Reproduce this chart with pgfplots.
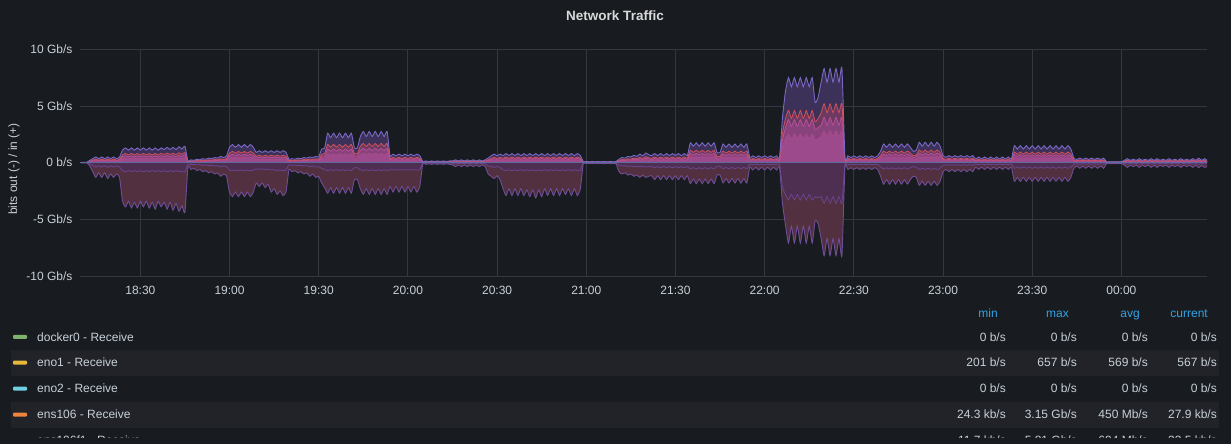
\documentclass[border=0pt]{standalone}
\usepackage{pgfplots}
\pgfplotsset{compat=1.18}
\usepackage{pgfplotstable}
\usepackage{fontspec}
\setmainfont{Liberation Sans}
\definecolor{bg}{HTML}{181B1F}
\definecolor{gridc}{HTML}{34373D}
\definecolor{tickc}{HTML}{C7D0D9}
\definecolor{titlec}{HTML}{D8D9DA}
\definecolor{hdr}{HTML}{33A2E5}
\definecolor{band}{HTML}{212328}
\definecolor{fT}{HTML}{3C3158}
\definecolor{fa}{HTML}{6C3A60}
\definecolor{fb}{HTML}{88427C}
\definecolor{fc}{HTML}{9C4A8C}
\definecolor{fN}{HTML}{52303F}
\definecolor{fn}{HTML}{4E2F52}
\definecolor{lT}{HTML}{7A68C6}
\definecolor{la}{HTML}{D0505C}
\definecolor{lb}{HTML}{B64F98}
\definecolor{lc}{HTML}{A84A8C}
\definecolor{lN}{HTML}{6E4E96}
\definecolor{ln}{HTML}{6A4590}
\definecolor{zl}{HTML}{5F6AA0}
\definecolor{sg}{HTML}{7EB26D}
\definecolor{sy}{HTML}{EAB839}
\definecolor{sc}{HTML}{6ED0E0}
\definecolor{so}{HTML}{EF843C}
\definecolor{sr}{HTML}{E24D42}

\pgfplotstableread{
m T a b c n N
10 0.03 0.02 0.01 0.01 -0.01 -0.02
11 0.03 0.02 0.01 0.01 -0.01 -0.02
12 0.03 0.02 0.01 0.01 -0.01 -0.02
13 0.2 0.12 0.09 0.06 -0.1 -0.3
14 0.35 0.22 0.16 0.11 -0.24 -0.8
15 0.5 0.31 0.23 0.15 -0.39 -1.3
16 0.35 0.22 0.16 0.11 -0.27 -0.9
17 0.5 0.31 0.23 0.15 -0.39 -1.3
18 0.35 0.22 0.16 0.11 -0.27 -0.9
19 0.5 0.31 0.23 0.15 -0.42 -1.4
20 0.35 0.22 0.16 0.11 -0.3 -1.0
21 0.5 0.31 0.23 0.15 -0.39 -1.3
22 0.35 0.22 0.16 0.11 -0.3 -1.0
23 0.5 0.31 0.23 0.15 -0.39 -1.3
24 1.1 0.68 0.51 0.33 -0.7 -3.4
25 1.3 0.81 0.6 0.39 -0.8 -3.9
26 1.1 0.68 0.51 0.33 -0.7 -3.4
27 1.3 0.81 0.6 0.39 -0.8 -4.0
28 1.1 0.68 0.51 0.33 -0.7 -3.5
29 1.3 0.81 0.6 0.39 -0.8 -4.0
30 1.1 0.68 0.51 0.33 -0.7 -3.4
31 1.3 0.81 0.6 0.39 -0.8 -3.9
32 1.1 0.68 0.51 0.33 -0.7 -3.4
33 1.3 0.81 0.6 0.39 -0.8 -4.0
34 1.1 0.68 0.51 0.33 -0.7 -3.5
35 1.3 0.81 0.6 0.39 -0.8 -4.1
36 1.1 0.68 0.51 0.33 -0.7 -3.4
37 1.3 0.81 0.6 0.39 -0.8 -3.9
38 1.15 0.71 0.53 0.35 -0.7 -3.5
39 1.35 0.84 0.62 0.41 -0.8 -4.1
40 1.15 0.71 0.53 0.35 -0.7 -3.5
41 1.35 0.84 0.62 0.41 -0.8 -4.2
42 1.15 0.71 0.53 0.35 -0.7 -3.6
43 1.4 0.87 0.64 0.42 -0.8 -4.3
44 1.2 0.74 0.55 0.36 -0.75 -3.8
45 1.45 0.9 0.67 0.44 -0.85 -4.4
46 0.15 0.09 0.07 0.05 -0.12 -0.4
47 0.25 0.16 0.12 0.08 -0.18 -0.6
48 0.2 0.12 0.09 0.06 -0.15 -0.5
49 0.3 0.19 0.14 0.09 -0.21 -0.7
50 0.25 0.16 0.12 0.08 -0.18 -0.6
51 0.35 0.22 0.16 0.11 -0.24 -0.8
52 0.3 0.19 0.14 0.09 -0.21 -0.7
53 0.4 0.25 0.18 0.12 -0.27 -0.9
54 0.35 0.22 0.16 0.11 -0.24 -0.8
55 0.45 0.28 0.21 0.14 -0.3 -1.0
56 0.4 0.25 0.18 0.12 -0.27 -0.9
57 0.55 0.34 0.25 0.17 -0.36 -1.2
58 0.45 0.28 0.21 0.14 -0.3 -1.0
59 0.6 0.37 0.28 0.18 -0.36 -1.2
60 1.35 0.84 0.62 0.41 -0.65 -2.6
61 1.6 0.99 0.74 0.48 -0.72 -3.0
62 1.35 0.84 0.62 0.41 -0.65 -2.6
63 1.6 0.99 0.74 0.48 -0.72 -3.0
64 1.35 0.84 0.62 0.41 -0.65 -2.6
65 1.6 0.99 0.74 0.48 -0.72 -3.0
66 1.35 0.84 0.62 0.41 -0.65 -2.6
67 1.6 0.99 0.74 0.48 -0.72 -3.0
68 1.35 0.84 0.62 0.41 -0.65 -2.6
69 0.9 0.56 0.41 0.27 -0.54 -1.8
70 1.05 0.65 0.48 0.32 -0.6 -2.1
71 0.9 0.56 0.41 0.27 -0.54 -1.8
72 1.05 0.65 0.48 0.32 -0.62 -2.2
73 0.9 0.56 0.41 0.27 -0.57 -1.9
74 1.05 0.65 0.48 0.32 -0.65 -2.6
75 0.9 0.56 0.41 0.27 -0.63 -2.3
76 1.05 0.65 0.48 0.32 -0.7 -2.8
77 0.9 0.56 0.41 0.27 -0.65 -2.5
78 1.05 0.65 0.48 0.32 -0.7 -2.9
79 0.9 0.56 0.41 0.27 -0.65 -2.6
80 0.3 0.19 0.14 0.09 -0.2 -0.6
81 0.35 0.22 0.16 0.11 -0.24 -0.8
82 0.3 0.19 0.14 0.09 -0.21 -0.7
83 0.4 0.25 0.18 0.12 -0.27 -0.9
84 0.35 0.22 0.16 0.11 -0.24 -0.8
85 0.45 0.28 0.21 0.14 -0.3 -1.0
86 0.4 0.25 0.18 0.12 -0.27 -0.9
87 0.5 0.31 0.23 0.15 -0.36 -1.2
88 0.45 0.28 0.21 0.14 -0.3 -1.0
89 0.55 0.34 0.25 0.17 -0.39 -1.3
90 0.5 0.31 0.23 0.15 -0.36 -1.2
91 1.2 0.74 0.55 0.36 -0.5 -1.8
92 1.3 0.81 0.6 0.39 -0.6 -2.2
93 2.6 1.61 1.2 0.78 -0.7 -2.7
94 2.2 1.36 1.01 0.66 -0.62 -2.2
95 2.6 1.61 1.2 0.78 -0.7 -2.7
96 2.2 1.36 1.01 0.66 -0.62 -2.2
97 2.6 1.61 1.2 0.78 -0.7 -2.7
98 2.2 1.36 1.01 0.66 -0.62 -2.2
99 2.6 1.61 1.2 0.78 -0.7 -2.7
100 2.2 1.36 1.01 0.66 -0.62 -2.2
101 2.6 1.61 1.2 0.78 -0.7 -2.7
102 1.3 0.81 0.6 0.39 -0.45 -1.5
103 1.3 0.81 0.6 0.39 -0.45 -1.5
104 2.3 1.43 1.06 0.69 -0.63 -2.3
105 2.75 1.7 1.27 0.83 -0.7 -2.8
106 2.3 1.43 1.06 0.69 -0.63 -2.3
107 2.75 1.7 1.27 0.83 -0.7 -2.8
108 2.3 1.43 1.06 0.69 -0.63 -2.3
109 2.75 1.7 1.27 0.83 -0.7 -2.8
110 2.3 1.43 1.06 0.69 -0.63 -2.3
111 2.75 1.7 1.27 0.83 -0.7 -2.8
112 2.3 1.43 1.06 0.69 -0.63 -2.3
113 2.75 1.7 1.27 0.83 -0.7 -2.8
114 0.6 0.37 0.28 0.18 -0.62 -2.1
115 0.75 0.47 0.35 0.23 -0.65 -2.6
116 0.6 0.37 0.28 0.18 -0.62 -2.1
117 0.75 0.47 0.35 0.23 -0.65 -2.6
118 0.6 0.37 0.28 0.18 -0.62 -2.1
119 0.75 0.47 0.35 0.23 -0.65 -2.6
120 0.6 0.37 0.28 0.18 -0.62 -2.1
121 0.75 0.47 0.35 0.23 -0.65 -2.6
122 0.6 0.37 0.28 0.18 -0.62 -2.1
123 0.75 0.47 0.35 0.23 -0.65 -2.6
124 0.6 0.37 0.28 0.18 -0.62 -2.1
125 0.1 0.06 0.05 0.03 -0.03 -0.1
126 0.15 0.09 0.07 0.05 -0.05 -0.15
127 0.1 0.06 0.05 0.03 -0.03 -0.1
128 0.15 0.09 0.07 0.05 -0.05 -0.15
129 0.1 0.06 0.05 0.03 -0.03 -0.1
130 0.15 0.09 0.07 0.05 -0.05 -0.15
131 0.1 0.06 0.05 0.03 -0.03 -0.1
132 0.15 0.09 0.07 0.05 -0.05 -0.15
133 0.1 0.06 0.05 0.03 -0.03 -0.1
134 0.15 0.09 0.07 0.05 -0.05 -0.15
135 0.15 0.09 0.07 0.05 -0.06 -0.2
136 0.25 0.16 0.12 0.08 -0.1 -0.35
137 0.15 0.09 0.07 0.05 -0.06 -0.2
138 0.25 0.16 0.12 0.08 -0.1 -0.35
139 0.15 0.09 0.07 0.05 -0.06 -0.2
140 0.25 0.16 0.12 0.08 -0.1 -0.35
141 0.15 0.09 0.07 0.05 -0.06 -0.2
142 0.25 0.16 0.12 0.08 -0.1 -0.35
143 0.15 0.09 0.07 0.05 -0.06 -0.2
144 0.25 0.16 0.12 0.08 -0.1 -0.35
145 0.15 0.09 0.07 0.05 -0.06 -0.2
146 0.25 0.16 0.12 0.08 -0.1 -0.35
147 0.4 0.25 0.18 0.12 -0.3 -1.0
148 0.6 0.37 0.28 0.18 -0.35 -1.2
149 0.75 0.47 0.35 0.23 -0.42 -1.4
150 0.6 0.37 0.28 0.18 -0.35 -1.15
151 0.75 0.47 0.35 0.23 -0.45 -1.5
152 0.62 0.38 0.29 0.19 -0.63 -2.3
153 0.8 0.5 0.37 0.24 -0.7 -2.9
154 0.62 0.38 0.29 0.19 -0.63 -2.3
155 0.8 0.5 0.37 0.24 -0.7 -2.9
156 0.62 0.38 0.29 0.19 -0.63 -2.3
157 0.8 0.5 0.37 0.24 -0.7 -2.9
158 0.62 0.38 0.29 0.19 -0.63 -2.3
159 0.8 0.5 0.37 0.24 -0.7 -2.9
160 0.62 0.38 0.29 0.19 -0.63 -2.4
161 0.8 0.5 0.37 0.24 -0.72 -3.0
162 0.62 0.38 0.29 0.19 -0.63 -2.4
163 0.8 0.5 0.37 0.24 -0.72 -3.1
164 0.62 0.38 0.29 0.19 -0.63 -2.4
165 0.8 0.5 0.37 0.24 -0.72 -3.0
166 0.62 0.38 0.29 0.19 -0.63 -2.3
167 0.8 0.5 0.37 0.24 -0.7 -2.9
168 0.62 0.38 0.29 0.19 -0.63 -2.3
169 0.8 0.5 0.37 0.24 -0.7 -2.9
170 0.62 0.38 0.29 0.19 -0.63 -2.3
171 0.8 0.5 0.37 0.24 -0.7 -2.9
172 0.62 0.38 0.29 0.19 -0.63 -2.3
173 0.8 0.5 0.37 0.24 -0.7 -2.8
174 0.62 0.38 0.29 0.19 -0.63 -2.3
175 0.8 0.5 0.37 0.24 -0.7 -2.9
176 0.62 0.38 0.29 0.19 -0.63 -2.3
177 0.8 0.5 0.37 0.24 -0.7 -2.9
178 0.62 0.38 0.29 0.19 -0.63 -2.3
179 0.08 0.05 0.04 0.02 -0.03 -0.08
180 0.1 0.06 0.05 0.03 -0.03 -0.1
181 0.06 0.04 0.03 0.02 -0.02 -0.06
182 0.1 0.06 0.05 0.03 -0.03 -0.1
183 0.06 0.04 0.03 0.02 -0.02 -0.06
184 0.1 0.06 0.05 0.03 -0.03 -0.1
185 0.06 0.04 0.03 0.02 -0.02 -0.06
186 0.1 0.06 0.05 0.03 -0.03 -0.1
187 0.06 0.04 0.03 0.02 -0.02 -0.06
188 0.1 0.06 0.05 0.03 -0.03 -0.1
189 0.06 0.04 0.03 0.02 -0.02 -0.06
190 0.1 0.06 0.05 0.03 -0.03 -0.1
191 0.3 0.19 0.14 0.09 -0.24 -0.8
192 0.45 0.28 0.21 0.14 -0.3 -1.0
193 0.4 0.25 0.18 0.12 -0.27 -0.9
194 0.55 0.34 0.25 0.17 -0.33 -1.1
195 0.5 0.31 0.23 0.15 -0.3 -1.0
196 0.65 0.4 0.3 0.2 -0.36 -1.2
197 0.55 0.34 0.25 0.17 -0.33 -1.1
198 0.75 0.47 0.35 0.23 -0.39 -1.3
199 0.6 0.37 0.28 0.18 -0.33 -1.1
200 0.85 0.53 0.39 0.26 -0.39 -1.3
201 0.7 0.43 0.32 0.21 -0.36 -1.2
202 0.62 0.38 0.29 0.19 -0.35 -1.15
203 0.8 0.5 0.37 0.24 -0.45 -1.5
204 0.62 0.38 0.29 0.19 -0.35 -1.15
205 0.8 0.5 0.37 0.24 -0.45 -1.5
206 0.62 0.38 0.29 0.19 -0.35 -1.15
207 0.8 0.5 0.37 0.24 -0.45 -1.5
208 0.62 0.38 0.29 0.19 -0.35 -1.15
209 0.8 0.5 0.37 0.24 -0.45 -1.5
210 0.62 0.38 0.29 0.19 -0.35 -1.15
211 0.8 0.5 0.37 0.24 -0.45 -1.5
212 0.62 0.38 0.29 0.19 -0.35 -1.15
213 0.8 0.5 0.37 0.24 -0.45 -1.5
214 0.62 0.38 0.29 0.19 -0.35 -1.15
215 1.75 1.09 0.81 0.53 -0.56 -1.85
216 1.45 0.9 0.67 0.44 -0.44 -1.45
217 1.75 1.09 0.81 0.53 -0.56 -1.85
218 1.45 0.9 0.67 0.44 -0.44 -1.45
219 1.75 1.09 0.81 0.53 -0.56 -1.85
220 1.45 0.9 0.67 0.44 -0.44 -1.45
221 1.75 1.09 0.81 0.53 -0.56 -1.85
222 1.45 0.9 0.67 0.44 -0.44 -1.45
223 1.75 1.09 0.81 0.53 -0.56 -1.85
224 0.9 0.56 0.41 0.27 -0.33 -1.1
225 0.9 0.56 0.41 0.27 -0.33 -1.1
226 1.65 1.02 0.76 0.5 -0.54 -1.8
227 1.35 0.84 0.62 0.41 -0.42 -1.4
228 1.65 1.02 0.76 0.5 -0.54 -1.8
229 1.35 0.84 0.62 0.41 -0.42 -1.4
230 1.65 1.02 0.76 0.5 -0.54 -1.8
231 1.35 0.84 0.62 0.41 -0.42 -1.4
232 1.65 1.02 0.76 0.5 -0.54 -1.8
233 1.35 0.84 0.62 0.41 -0.42 -1.4
234 1.65 1.02 0.76 0.5 -0.54 -1.8
235 0.45 0.28 0.21 0.14 -0.12 -0.4
236 0.6 0.37 0.28 0.18 -0.2 -0.65
237 0.45 0.28 0.21 0.14 -0.12 -0.4
238 0.6 0.37 0.28 0.18 -0.2 -0.65
239 0.45 0.28 0.21 0.14 -0.12 -0.4
240 0.6 0.37 0.28 0.18 -0.2 -0.65
241 0.45 0.28 0.21 0.14 -0.12 -0.4
242 0.6 0.37 0.28 0.18 -0.2 -0.65
243 0.45 0.28 0.21 0.14 -0.12 -0.4
244 0.6 0.37 0.28 0.18 -0.2 -0.65
245 0.45 0.28 0.21 0.14 -0.12 -0.4
246 4.0 2.6 2.0 1.4 -2.2 -3.6
247 6.3 3.9 3.1 2.1 -2.8 -5.5
248 7.5 4.6 3.8 2.5 -3.3 -7.1
249 6.7 3.9 3.2 2.1 -2.8 -5.6
250 7.5 4.6 3.8 2.5 -3.3 -7.1
251 6.7 3.9 3.2 2.1 -2.8 -5.6
252 7.5 4.6 3.8 2.5 -3.3 -7.1
253 6.7 3.9 3.2 2.1 -2.8 -5.6
254 7.5 4.6 3.8 2.5 -3.3 -7.1
255 6.7 3.9 3.2 2.1 -2.8 -5.6
256 7.5 4.6 3.8 2.5 -3.3 -7.1
257 5.3 3.6 2.9 2.0 -3.0 -5.1
258 5.8 3.9 3.1 2.1 -3.1 -5.4
259 7.1 4.4 3.3 2.3 -3.0 -6.7
260 8.3 5.2 4.0 2.8 -3.6 -8.2
261 7.1 4.4 3.3 2.3 -3.0 -6.7
262 8.3 5.2 4.0 2.8 -3.6 -8.2
263 7.1 4.4 3.3 2.3 -3.0 -6.7
264 8.3 5.2 4.0 2.8 -3.6 -8.2
265 7.1 4.4 3.3 2.3 -3.0 -6.7
266 8.3 5.2 4.0 2.8 -3.6 -8.2
267 0.45 0.28 0.21 0.14 -0.14 -0.45
268 0.6 0.37 0.28 0.18 -0.18 -0.6
269 0.45 0.28 0.21 0.14 -0.14 -0.45
270 0.6 0.37 0.28 0.18 -0.18 -0.6
271 0.45 0.28 0.21 0.14 -0.14 -0.45
272 0.6 0.37 0.28 0.18 -0.18 -0.6
273 0.45 0.28 0.21 0.14 -0.14 -0.45
274 0.6 0.37 0.28 0.18 -0.18 -0.6
275 0.45 0.28 0.21 0.14 -0.14 -0.45
276 0.6 0.37 0.28 0.18 -0.18 -0.6
277 0.45 0.28 0.21 0.14 -0.14 -0.45
278 0.6 0.37 0.28 0.18 -0.18 -0.6
279 1.0 0.62 0.46 0.3 -0.36 -1.2
280 1.65 1.02 0.76 0.5 -0.57 -1.9
281 1.35 0.84 0.62 0.41 -0.45 -1.5
282 1.65 1.02 0.76 0.5 -0.57 -1.9
283 1.35 0.84 0.62 0.41 -0.45 -1.5
284 1.65 1.02 0.76 0.5 -0.57 -1.9
285 1.35 0.84 0.62 0.41 -0.45 -1.5
286 1.65 1.02 0.76 0.5 -0.57 -1.9
287 1.35 0.84 0.62 0.41 -0.45 -1.5
288 1.65 1.02 0.76 0.5 -0.57 -1.9
289 1.35 0.84 0.62 0.41 -0.45 -1.5
290 1.0 0.62 0.46 0.3 -0.36 -1.2
291 1.1 0.68 0.51 0.33 -0.4 -1.3
292 1.8 1.12 0.83 0.54 -0.6 -2.0
293 1.45 0.9 0.67 0.44 -0.5 -1.65
294 1.8 1.12 0.83 0.54 -0.6 -2.0
295 1.45 0.9 0.67 0.44 -0.5 -1.65
296 1.8 1.12 0.83 0.54 -0.6 -2.0
297 1.45 0.9 0.67 0.44 -0.5 -1.65
298 1.8 1.12 0.83 0.54 -0.6 -2.0
299 1.45 0.9 0.67 0.44 -0.5 -1.65
300 0.62 0.38 0.29 0.19 -0.24 -0.8
301 0.48 0.3 0.22 0.14 -0.18 -0.6
302 0.62 0.38 0.29 0.19 -0.24 -0.8
303 0.48 0.3 0.22 0.14 -0.18 -0.6
304 0.62 0.38 0.29 0.19 -0.24 -0.8
305 0.48 0.3 0.22 0.14 -0.18 -0.6
306 0.62 0.38 0.29 0.19 -0.24 -0.8
307 0.48 0.3 0.22 0.14 -0.18 -0.6
308 0.62 0.38 0.29 0.19 -0.24 -0.8
309 0.48 0.3 0.22 0.14 -0.18 -0.6
310 0.62 0.38 0.29 0.19 -0.24 -0.8
311 0.32 0.2 0.15 0.1 -0.12 -0.4
312 0.5 0.31 0.23 0.15 -0.18 -0.6
313 0.32 0.2 0.15 0.1 -0.12 -0.4
314 0.5 0.31 0.23 0.15 -0.18 -0.6
315 0.32 0.2 0.15 0.1 -0.12 -0.4
316 0.5 0.31 0.23 0.15 -0.18 -0.6
317 0.32 0.2 0.15 0.1 -0.12 -0.4
318 0.5 0.31 0.23 0.15 -0.18 -0.6
319 0.32 0.2 0.15 0.1 -0.12 -0.4
320 0.5 0.31 0.23 0.15 -0.18 -0.6
321 0.32 0.2 0.15 0.1 -0.12 -0.4
322 0.5 0.31 0.23 0.15 -0.18 -0.6
323 0.32 0.2 0.15 0.1 -0.12 -0.4
324 1.5 0.93 0.69 0.45 -0.5 -1.65
325 1.2 0.74 0.55 0.36 -0.39 -1.3
326 1.5 0.93 0.69 0.45 -0.5 -1.65
327 1.2 0.74 0.55 0.36 -0.39 -1.3
328 1.5 0.93 0.69 0.45 -0.5 -1.65
329 1.2 0.74 0.55 0.36 -0.39 -1.3
330 1.5 0.93 0.69 0.45 -0.5 -1.65
331 1.2 0.74 0.55 0.36 -0.39 -1.3
332 1.5 0.93 0.69 0.45 -0.5 -1.65
333 1.2 0.74 0.55 0.36 -0.39 -1.3
334 1.5 0.93 0.69 0.45 -0.5 -1.65
335 1.2 0.74 0.55 0.36 -0.39 -1.3
336 1.5 0.93 0.69 0.45 -0.5 -1.65
337 1.2 0.74 0.55 0.36 -0.39 -1.3
338 1.5 0.93 0.69 0.45 -0.5 -1.65
339 1.2 0.74 0.55 0.36 -0.39 -1.3
340 1.5 0.93 0.69 0.45 -0.5 -1.65
341 1.2 0.74 0.55 0.36 -0.39 -1.3
342 1.5 0.93 0.69 0.45 -0.5 -1.65
343 1.2 0.74 0.55 0.36 -0.39 -1.3
344 0.4 0.25 0.18 0.12 -0.15 -0.5
345 0.28 0.17 0.13 0.08 -0.1 -0.3
346 0.4 0.25 0.18 0.12 -0.15 -0.5
347 0.28 0.17 0.13 0.08 -0.1 -0.3
348 0.4 0.25 0.18 0.12 -0.15 -0.5
349 0.28 0.17 0.13 0.08 -0.1 -0.3
350 0.4 0.25 0.18 0.12 -0.15 -0.5
351 0.28 0.17 0.13 0.08 -0.1 -0.3
352 0.4 0.25 0.18 0.12 -0.15 -0.5
353 0.28 0.17 0.13 0.08 -0.1 -0.3
354 0.4 0.25 0.18 0.12 -0.15 -0.5
355 0.08 0.05 0.04 0.02 -0.03 -0.08
356 0.08 0.05 0.04 0.02 -0.03 -0.08
357 0.08 0.05 0.04 0.02 -0.03 -0.08
358 0.08 0.05 0.04 0.02 -0.03 -0.08
359 0.08 0.05 0.04 0.02 -0.03 -0.08
360 0.08 0.05 0.04 0.02 -0.03 -0.08
361 0.2 0.12 0.09 0.06 -0.07 -0.22
362 0.35 0.22 0.16 0.11 -0.13 -0.42
363 0.2 0.12 0.09 0.06 -0.07 -0.22
364 0.3 0.19 0.14 0.09 -0.11 -0.35
365 0.2 0.12 0.09 0.06 -0.07 -0.22
366 0.35 0.22 0.16 0.11 -0.13 -0.42
367 0.2 0.12 0.09 0.06 -0.07 -0.22
368 0.3 0.19 0.14 0.09 -0.11 -0.35
369 0.2 0.12 0.09 0.06 -0.07 -0.22
370 0.35 0.22 0.16 0.11 -0.13 -0.42
371 0.2 0.12 0.09 0.06 -0.07 -0.22
372 0.35 0.22 0.16 0.11 -0.13 -0.42
373 0.2 0.12 0.09 0.06 -0.07 -0.22
374 0.3 0.19 0.14 0.09 -0.11 -0.35
375 0.2 0.12 0.09 0.06 -0.07 -0.22
376 0.35 0.22 0.16 0.11 -0.13 -0.42
377 0.2 0.12 0.09 0.06 -0.07 -0.22
378 0.3 0.19 0.14 0.09 -0.11 -0.35
379 0.2 0.12 0.09 0.06 -0.07 -0.22
380 0.35 0.22 0.16 0.11 -0.13 -0.42
381 0.2 0.12 0.09 0.06 -0.07 -0.22
382 0.3 0.19 0.14 0.09 -0.11 -0.35
383 0.2 0.12 0.09 0.06 -0.07 -0.22
384 0.35 0.22 0.16 0.11 -0.13 -0.42
385 0.2 0.12 0.09 0.06 -0.07 -0.22
386 0.4 0.25 0.18 0.12 -0.15 -0.45
387 0.2 0.12 0.09 0.06 -0.07 -0.25
388 0.35 0.22 0.16 0.11 -0.13 -0.42
389 0.15 0.09 0.07 0.05 -0.07 -0.3
}\traffic

\begin{document}
\begin{tikzpicture}[x=1pt,y=1pt]
\path[use as bounding box, fill=bg] (0,0) rectangle (1231,444);
\begin{axis}[
  at={(80pt,168pt)}, anchor=south west,
  scale only axis, width=1127pt, height=226.7pt,
  xmin=9.7, xmax=388.8, ymin=-10, ymax=10,
  axis line style={draw=none},
  major tick length=0pt,
  grid=major, grid style={color=gridc, line width=0.9pt},
  xtick={30,60,...,360},
  xticklabels={18:30,19:00,19:30,20:00,20:30,21:00,21:30,22:00,22:30,23:00,23:30,00:00},
  ytick={-10,-5,0,5,10},
  yticklabels={-10 Gb/s,-5 Gb/s,0 b/s,5 Gb/s,10 Gb/s},
  tick label style={font=\fontsize{12}{14}\selectfont, text=tickc, inner sep=0pt},
  xticklabel style={anchor=center, yshift=-14pt},
  yticklabel style={anchor=east, xshift=-7.3pt},
  every axis plot/.append style={smooth, tension=0.3},
]
\addplot[draw=none, fill=fT] table[x=m,y=T]{\traffic} \closedcycle;
\addplot[draw=none, fill=fa] table[x=m,y=a]{\traffic} \closedcycle;
\addplot[draw=none, fill=fb] table[x=m,y=b]{\traffic} \closedcycle;
\addplot[draw=none, fill=fc] table[x=m,y=c]{\traffic} \closedcycle;
\addplot[draw=none, fill=fN] table[x=m,y=N]{\traffic} \closedcycle;
\addplot[draw=none, fill=fn] table[x=m,y=n]{\traffic} \closedcycle;
\addplot[color=lc, line width=0.8pt] table[x=m,y=c]{\traffic};
\addplot[color=lb, line width=0.8pt] table[x=m,y=b]{\traffic};
\addplot[color=la, line width=0.8pt] table[x=m,y=a]{\traffic};
\addplot[color=lT, line width=0.9pt] table[x=m,y=T]{\traffic};
\addplot[color=ln, line width=0.8pt] table[x=m,y=n]{\traffic};
\addplot[color=lN, line width=0.9pt] table[x=m,y=N]{\traffic};
\addplot[color=zl, line width=1.3pt, sharp plot] coordinates {(9.7,0) (388.8,0)};
\end{axis}
% title and y label
\node[text=titlec, inner sep=0pt, font=\fontsize{13.5}{16}\selectfont\bfseries] at (615,428) {Network Traffic};
\node[text=tickc, inner sep=0pt, rotate=90, font=\fontsize{12}{14}\selectfont] at (14,275) {bits out (-) / in (+)};
% legend table
\fill[band] (11,68) rectangle (1219,94);
\fill[band] (11,16) rectangle (1219,42);
\begin{scope}[every node/.style={inner sep=0pt, font=\fontsize{12}{14}\selectfont}]
\node[anchor=base east, text=hdr] at (998,126.9) {min};
\node[anchor=base east, text=hdr] at (1069,126.9) {max};
\node[anchor=base east, text=hdr] at (1140,126.9) {avg};
\node[anchor=base east, text=hdr] at (1208,126.9) {current};
% row 1
\fill[sg, rounded corners=1pt] (13,105) rectangle (27,109);
\node[anchor=west, text=tickc] at (37,107) {docker0 - Receive};
\node[anchor=east, text=tickc] at (1006,107) {0 b/s};
\node[anchor=east, text=tickc] at (1077,107) {0 b/s};
\node[anchor=east, text=tickc] at (1148,107) {0 b/s};
\node[anchor=east, text=tickc] at (1217,107) {0 b/s};
% row 2
\fill[sy, rounded corners=1pt] (13,79.3) rectangle (27,83.3);
\node[anchor=west, text=tickc] at (37,81.3) {eno1 - Receive};
\node[anchor=east, text=tickc] at (1006,81.3) {201 b/s};
\node[anchor=east, text=tickc] at (1077,81.3) {657 b/s};
\node[anchor=east, text=tickc] at (1148,81.3) {569 b/s};
\node[anchor=east, text=tickc] at (1217,81.3) {567 b/s};
% row 3
\fill[sc, rounded corners=1pt] (13,53.3) rectangle (27,57.3);
\node[anchor=west, text=tickc] at (37,55.3) {eno2 - Receive};
\node[anchor=east, text=tickc] at (1006,55.3) {0 b/s};
\node[anchor=east, text=tickc] at (1077,55.3) {0 b/s};
\node[anchor=east, text=tickc] at (1148,55.3) {0 b/s};
\node[anchor=east, text=tickc] at (1217,55.3) {0 b/s};
% row 4
\fill[so, rounded corners=1pt] (13,27.3) rectangle (27,31.3);
\node[anchor=west, text=tickc] at (37,29.3) {ens106 - Receive};
\node[anchor=east, text=tickc] at (1006,29.3) {24.3 kb/s};
\node[anchor=east, text=tickc] at (1077,29.3) {3.15 Gb/s};
\node[anchor=east, text=tickc] at (1148,29.3) {450 Mb/s};
\node[anchor=east, text=tickc] at (1217,29.3) {27.9 kb/s};
% row 5 (cut off by the panel edge, as in the reference)
\begin{scope}
\clip (0,6) rectangle (1231,16);
\fill[sr, rounded corners=1pt] (13,1.3) rectangle (27,5.3);
\node[anchor=west, text=tickc] at (37,3.3) {ens106f1 - Receive};
\node[anchor=east, text=tickc] at (1006,3.3) {11.7 kb/s};
\node[anchor=east, text=tickc] at (1077,3.3) {5.81 Gb/s};
\node[anchor=east, text=tickc] at (1148,3.3) {694 Mb/s};
\node[anchor=east, text=tickc] at (1217,3.3) {33.5 kb/s};
\end{scope}
\end{scope}
\end{tikzpicture}
\end{document}
